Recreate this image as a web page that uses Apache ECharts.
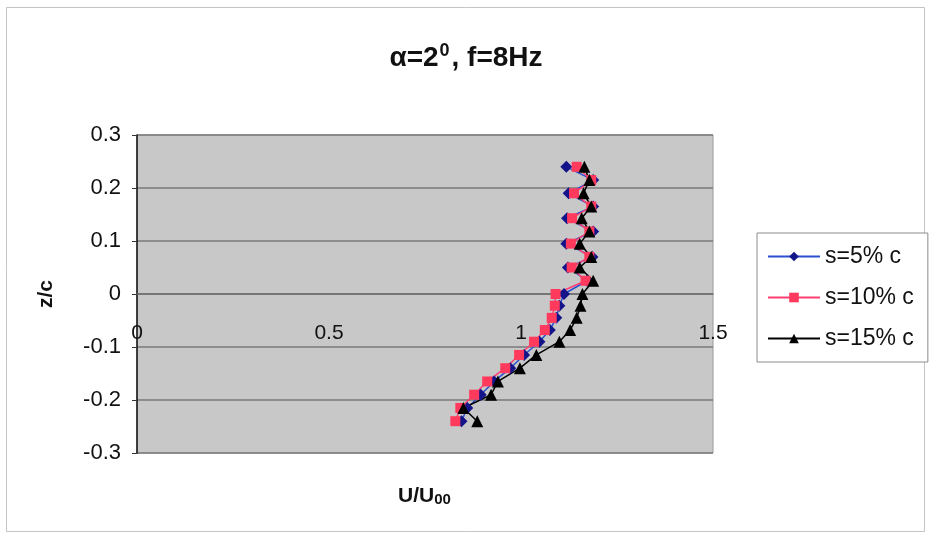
<!DOCTYPE html>
<html>
<head>
<meta charset="utf-8">
<script src="https://cdn.jsdelivr.net/npm/echarts@6/dist/echarts.min.js"></script>
<style>html,body{margin:0;padding:0;background:#fff}#c{width:932px;height:538px}</style>
</head>
<body>
<div id="c"></div>
<script>
var zLevels = [0.24, 0.215, 0.19, 0.165, 0.143, 0.118, 0.095, 0.07, 0.05, 0.025, 0.0, -0.022, -0.045, -0.068, -0.09, -0.115, -0.14, -0.165, -0.19, -0.215, -0.24];
var u5  = [1.118, 1.188, 1.124, 1.188, 1.12, 1.188, 1.118, 1.186, 1.122, 1.172, 1.112, 1.1, 1.092, 1.075, 1.048, 1.008, 0.972, 0.93, 0.895, 0.86, 0.845];
var u10 = [1.145, 1.183, 1.138, 1.183, 1.133, 1.178, 1.13, 1.178, 1.132, 1.168, 1.09, 1.088, 1.08, 1.062, 1.034, 0.995, 0.959, 0.912, 0.878, 0.842, 0.829];
var u15 = [1.165, 1.178, 1.163, 1.183, 1.158, 1.178, 1.153, 1.183, 1.153, 1.188, 1.16, 1.155, 1.145, 1.128, 1.1, 1.04, 0.997, 0.94, 0.922, 0.85, 0.886];
var seriesNames = ['s=5% c', 's=10% c', 's=15% c'];
var xTicks = [0, 0.5, 1, 1.5];
var yTicks = [-0.3, -0.2, -0.1, 0, 0.1, 0.2, 0.3];

function pairs(u) { return u.map(function (v, i) { return [v, zLevels[i]]; }); }

var chart = echarts.init(document.getElementById('c'), null, {renderer: 'canvas'});
var font = 'Liberation Sans, Arial, sans-serif';
var gridTop = 135, gridBottom = 85, H = 538;
// x axis crosses the y axis at z = 0 (middle of the -0.3..0.3 range)
var plotH = H - gridTop - gridBottom;
var xAxisOffset = -plotH / 2;

chart.setOption({
  backgroundColor: '#fff',
  animation: false,
  title: [{
    left: 'center', top: 37,
    text: '{a|α=2}{s|0}{a|, f=8Hz}',
    textStyle: {
      rich: {
        a: {fontFamily: font, fontWeight: 'bold', fontSize: 28, color: '#111'},
        s: {fontFamily: font, fontWeight: 'bold', fontSize: 18, color: '#111', padding: [0, 2, 14, 1]}
      }
    }
  }, {
    left: 393, top: 481,
    text: '{a|U/U}{b|00}',
    textStyle: {
      rich: {
        a: {fontFamily: font, fontWeight: 'bold', fontSize: 21, color: '#111'},
        b: {fontFamily: font, fontWeight: 'bold', fontSize: 15, color: '#111', padding: [0, 0, -7, 0]}
      }
    }
  }],
  grid: {
    left: 137, right: 219, top: gridTop, bottom: gridBottom,
    show: true, backgroundColor: '#c8c8c8', borderColor: '#9a9a9a', borderWidth: 1
  },
  legend: {
    orient: 'vertical', left: 757, top: 233,
    itemWidth: 52, itemHeight: 12, itemGap: 18,
    padding: [12, 14, 12, 10],
    borderColor: '#8c8c8c', borderWidth: 1, backgroundColor: '#fff',
    textStyle: {fontFamily: font, fontSize: 23, color: '#111', padding: [0, 0, 0, 0]},
    data: seriesNames
  },
  xAxis: {
    type: 'value', min: 0, max: 1.5, interval: 0.5,
    position: 'bottom', offset: xAxisOffset,
    axisLine: {show: true, onZero: false, lineStyle: {color: '#6e6e6e', width: 1.5}},
    axisTick: {show: false},
    splitLine: {show: false},
    axisLabel: {
      margin: 29, fontFamily: font, fontSize: 21, color: '#111',
      formatter: function (v) { return xTicks.indexOf(v) >= 0 ? String(v) : ''; }
    }
  },
  yAxis: {
    type: 'value', min: -0.3, max: 0.3, interval: 0.1,
    name: 'z/c', nameLocation: 'middle', nameGap: 80, nameRotate: 90,
    nameTextStyle: {fontFamily: font, fontWeight: 'bold', fontSize: 21, color: '#111'},
    axisLine: {show: true, onZero: false, lineStyle: {color: '#111', width: 1.5}},
    axisTick: {show: true, length: 5, lineStyle: {color: '#333'}},
    splitLine: {show: true, lineStyle: {color: '#7a7a7a', width: 1.5}},
    axisLabel: {
      margin: 16, fontFamily: font, fontSize: 22, color: '#111',
      formatter: function (v) {
        var r = Math.round(v * 10) / 10;
        for (var i = 0; i < yTicks.length; i++) if (Math.abs(yTicks[i] - r) < 1e-9) return r === 0 ? '0' : String(r);
        return '';
      }
    }
  },
  series: [{
    name: seriesNames[0], type: 'line', data: pairs(u5),
    symbol: 'diamond', symbolSize: 12, showAllSymbol: true,
    lineStyle: {color: '#2a4fd0', width: 1.5},
    itemStyle: {color: '#14148a'}
  }, {
    name: seriesNames[1], type: 'line', data: pairs(u10),
    symbol: 'rect', symbolSize: 10, showAllSymbol: true,
    lineStyle: {color: '#ff3f73', width: 1.5},
    itemStyle: {color: '#ff3a5c'}
  }, {
    name: seriesNames[2], type: 'line', data: pairs(u15),
    symbol: 'triangle', symbolSize: 12, showAllSymbol: true,
    lineStyle: {color: '#000', width: 1.5},
    itemStyle: {color: '#000'}
  }],
  graphic: [{
    type: 'rect', shape: {x: 6.5, y: 7.5, width: 918, height: 524},
    style: {fill: 'none', stroke: '#c4c4c4', lineWidth: 1}, silent: true
  }]
});
</script>
</body>
</html>
